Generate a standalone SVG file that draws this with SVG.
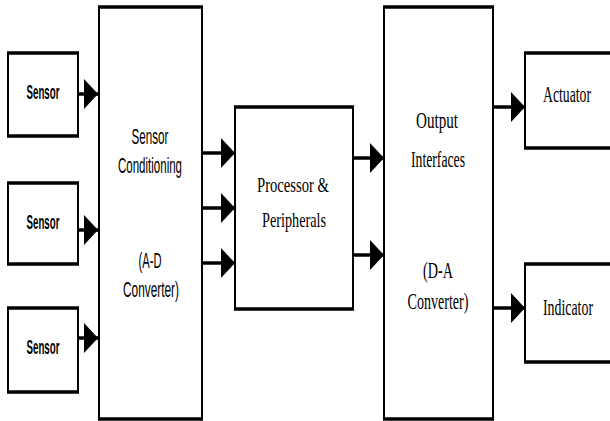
<svg xmlns="http://www.w3.org/2000/svg" width="610" height="421" viewBox="0 0 610 421">
<defs>
<style>
.box{fill:#fff;stroke:#000;stroke-width:2}
.tb{stroke:#000;stroke-width:3.5;fill:none}
.con{stroke:#000;stroke-width:3.5;fill:none}
</style>
<marker id="ah" markerUnits="userSpaceOnUse" markerWidth="14" markerHeight="30" refX="14" refY="15" orient="auto" viewBox="0 0 14 30">
<path d="M0,0 L14,15 L0,30 Z" fill="#000"/>
</marker>
</defs>
<rect width="610" height="421" fill="#fff"/>

<g id="sensor1">
<rect class="box" x="8" y="53" width="70" height="83"/>
<path class="tb" d="M7,53 H79 M7,136 H79"/>
<text font-family="'Liberation Sans', Arial, sans-serif" x="43" y="99" font-size="20" font-weight="bold" text-anchor="middle" textLength="33" lengthAdjust="spacingAndGlyphs">Sensor</text>
</g>
<g id="sensor2">
<rect class="box" x="8" y="183" width="70" height="81"/>
<path class="tb" d="M7,183 H79 M7,264 H79"/>
<text font-family="'Liberation Sans', Arial, sans-serif" x="43" y="229" font-size="20" font-weight="bold" text-anchor="middle" textLength="33" lengthAdjust="spacingAndGlyphs">Sensor</text>
</g>
<g id="sensor3">
<rect class="box" x="8" y="308" width="70" height="84"/>
<path class="tb" d="M7,308 H79 M7,392 H79"/>
<text font-family="'Liberation Sans', Arial, sans-serif" x="43" y="354" font-size="20" font-weight="bold" text-anchor="middle" textLength="33" lengthAdjust="spacingAndGlyphs">Sensor</text>
</g>

<g id="conditioning" font-family="'Liberation Sans', Arial, sans-serif" font-size="22">
<rect class="box" x="99" y="7" width="103" height="412"/>
<path class="tb" d="M98,7 H203 M98,419 H203"/>
<text x="150" y="144" text-anchor="middle" textLength="37" lengthAdjust="spacingAndGlyphs">Sensor</text>
<text x="150" y="173" text-anchor="middle" textLength="64" lengthAdjust="spacingAndGlyphs">Conditioning</text>
<text x="150" y="268" text-anchor="middle" textLength="23" lengthAdjust="spacingAndGlyphs">(A-D</text>
<text x="151" y="297" text-anchor="middle" textLength="56" lengthAdjust="spacingAndGlyphs">Converter)</text>
</g>

<g id="processor" font-family="'Liberation Serif', 'Times New Roman', serif" font-size="22">
<rect class="box" x="235" y="107" width="118" height="202"/>
<path class="tb" d="M234,107 H354 M234,309 H354"/>
<text x="293" y="192" text-anchor="middle" textLength="72" lengthAdjust="spacingAndGlyphs">Processor &amp;</text>
<text x="294" y="227" text-anchor="middle" textLength="64" lengthAdjust="spacingAndGlyphs">Peripherals</text>
</g>

<g id="output" font-family="'Liberation Serif', 'Times New Roman', serif" font-size="24">
<rect class="box" x="384" y="7" width="109" height="412"/>
<path class="tb" d="M383,7 H494 M383,419 H494"/>
<text x="437" y="128" text-anchor="middle" textLength="42" lengthAdjust="spacingAndGlyphs">Output</text>
<text x="438" y="167" text-anchor="middle" textLength="54" lengthAdjust="spacingAndGlyphs">Interfaces</text>
<text x="438" y="278" text-anchor="middle" textLength="30" lengthAdjust="spacingAndGlyphs">(D-A</text>
<text x="438" y="309" text-anchor="middle" textLength="61" lengthAdjust="spacingAndGlyphs">Converter)</text>
</g>

<g id="actuator" font-family="'Liberation Serif', 'Times New Roman', serif" font-size="23">
<rect class="box" x="525" y="53" width="95" height="95"/>
<path class="tb" d="M524,53 H612 M524,148 H612"/>
<text x="543" y="102" textLength="48" lengthAdjust="spacingAndGlyphs">Actuator</text>
</g>

<g id="indicator" font-family="'Liberation Serif', 'Times New Roman', serif" font-size="23">
<rect class="box" x="525" y="264" width="95" height="98"/>
<path class="tb" d="M524,264 H612 M524,362 H612"/>
<text x="543" y="315" textLength="50" lengthAdjust="spacingAndGlyphs">Indicator</text>
</g>

<g id="connectors">
<path class="con" d="M78,94 H98" marker-end="url(#ah)"/>
<path class="con" d="M78,230 H98" marker-end="url(#ah)"/>
<path class="con" d="M78,338 H98" marker-end="url(#ah)"/>
<path class="con" d="M202,153 H235" marker-end="url(#ah)"/>
<path class="con" d="M202,208 H235" marker-end="url(#ah)"/>
<path class="con" d="M202,263 H235" marker-end="url(#ah)"/>
<path class="con" d="M353,158 H384" marker-end="url(#ah)"/>
<path class="con" d="M353,255 H384" marker-end="url(#ah)"/>
<path class="con" d="M493,107 H525" marker-end="url(#ah)"/>
<path class="con" d="M493,308 H525" marker-end="url(#ah)"/>
</g>
</svg>
